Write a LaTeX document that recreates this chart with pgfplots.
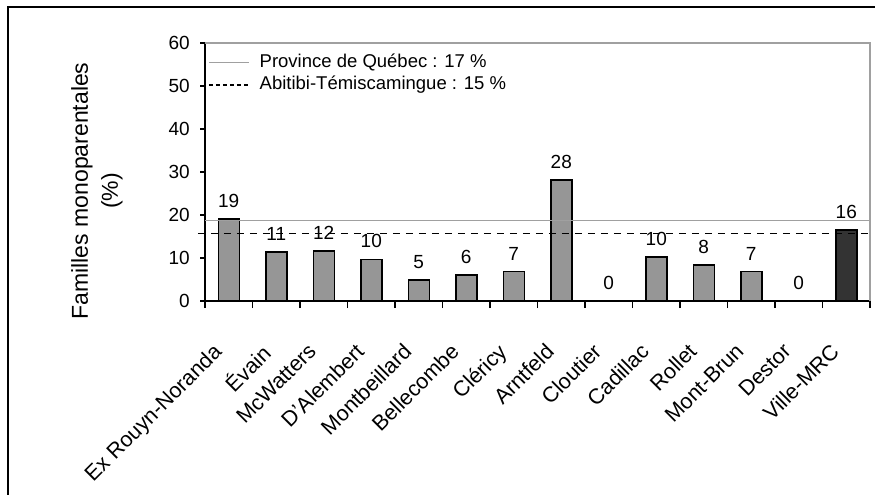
\documentclass[border=0pt]{standalone}
\usepackage{pgfplots}
\pgfplotsset{compat=1.18}
\usepackage{fontspec}
\setmainfont{Liberation Sans}
\definecolor{barg}{HTML}{969696}
\definecolor{bard}{HTML}{333333}
\definecolor{refg}{HTML}{A0A0A0}
\newcommand{\legfont}{\fontsize{18.5bp}{22bp}\selectfont}

\begin{document}
\begin{tikzpicture}
\path[use as bounding box] (0bp,0bp) rectangle (875bp,495bp);
% cadre exterieur (coupe a droite et en bas)
\draw[line width=2bp] (8bp,-2bp) -- (8bp,488bp) -- (880bp,488bp);
\node[rotate=90, align=center, font=\fontsize{23bp}{30bp}\selectfont] at (97bp,304bp)
  {Familles monoparentales\\(\%)};
\begin{axis}[
    at={(205bp,194bp)}, anchor=south west,
    scale only axis, width=665bp, height=258bp,
    xmin=-0.5, xmax=13.5, ymin=0, ymax=60,
    clip=false,
    axis x line*=bottom, axis y line*=left,
    x axis line style={-, line width=1.6bp},
    y axis line style={-, line width=1.6bp},
    ytick={0,10,...,60},
    xtick={0,...,13},
    xticklabels={Ex Rouyn-Noranda,Évain,McWatters,D'Alembert,Montbeillard,Bellecombe,Cléricy,Arntfeld,Cloutier,Cadillac,Rollet,Mont-Brun,Destor,Ville-MRC},
    minor xtick={-0.5,0.5,...,13.5},
    tick align=outside,
    major tick length=5bp,
    minor tick length=7bp,
    major x tick style={draw=none},
    minor x tick style={line width=1.5bp, black},
    y tick style={line width=1.5bp, black},
    /pgf/number format/assume math mode=true,
    yticklabel style={font=\fontsize{19bp}{22bp}\selectfont, inner sep=2bp, xshift=-8bp},
    xticklabel style={font=\fontsize{21.5bp}{24bp}\selectfont, inner sep=0pt,
        xshift=-17bp, yshift=-36bp, rotate=45, anchor=north east},
    legend style={draw=none, fill=none, at={(rel axis cs:0,1)}, anchor=north west,
        xshift=3bp, yshift=-8bp, inner sep=0pt, column sep=8bp,
        nodes={inner sep=2bp, text height=14bp, text depth=4.5bp}},
    legend cell align=left,
    legend image code/.code={\draw[#1] (0bp,0bp) -- (40bp,0bp);},
]
\addplot[ybar, bar width=21bp, bar shift=0pt, fill=barg, draw=black, line width=1.5bp, forget plot]
  coordinates {(0,19.1) (1,11.4) (2,11.6) (3,9.7) (4,4.9) (5,6.0) (6,6.9) (7,28.1) (8,0) (9,10.2) (10,8.4) (11,6.9) (12,0)};
\addplot[ybar, bar width=21bp, bar shift=0pt, fill=bard, draw=black, line width=1.5bp, forget plot]
  coordinates {(13,16.5)};
\addplot[refg, line width=1.5bp] coordinates {(-0.5,18.7) (13.5,18.7)};
\addlegendentry{\legfont Province de Québec : 17 \%}
\addplot[black, line width=1.2bp, dash pattern=on 7bp off 6bp,
    legend image post style={dash pattern=on 4.5bp off 2.5bp}]
  coordinates {(-0.65,15.7) (13.55,15.7)};
\addlegendentry{\legfont Abitibi-Témiscamingue : 15 \%}
% etiquettes de donnees
\addplot[draw=none, forget plot, nodes near coords, point meta=explicit symbolic,
    every node near coord/.append style={font=\fontsize{19bp}{22bp}\selectfont,
        anchor=south, inner sep=3bp, yshift=8bp}]
  coordinates {(0,19.1)[19] (1,11.4)[11] (2,11.6)[12] (3,9.7)[10] (4,4.9)[5] (5,6.0)[6] (6,6.9)[7]
    (7,28.1)[28] (8,0)[0] (9,10.2)[10] (10,8.4)[8] (11,6.9)[7] (12,0)[0] (13,16.5)[16]};
% bordure grise de la zone de trace
\draw[refg, line width=1.5bp] (rel axis cs:0,1) -- (rel axis cs:1,1) -- (rel axis cs:1,0);
\end{axis}
\end{tikzpicture}
\end{document}
